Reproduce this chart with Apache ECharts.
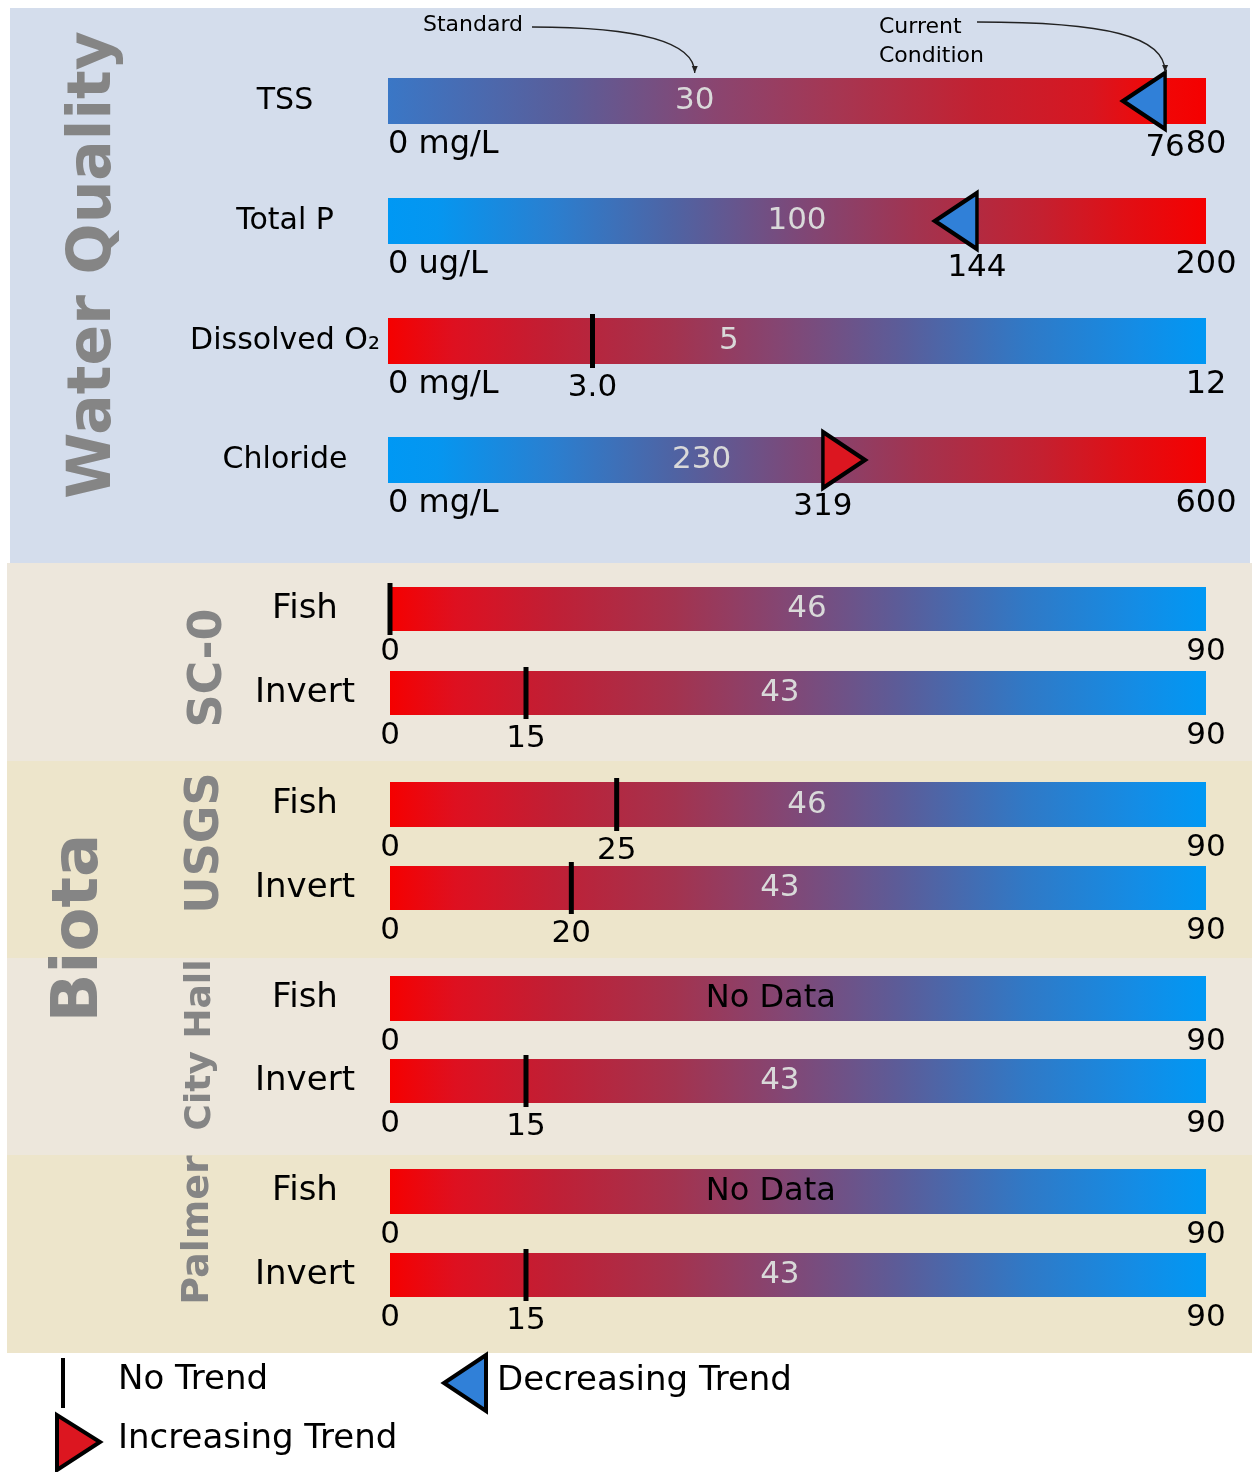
<!DOCTYPE html>
<html>
<head>
<meta charset="utf-8">
<script src="https://cdn.jsdelivr.net/npm/echarts@6/dist/echarts.min.js"></script>
<style>
  html, body { margin: 0; padding: 0; background: #ffffff; }
  #chart { width: 1252px; height: 1472px; }
</style>
</head>
<body>
<div id="chart"></div>
<script>
// ---------------- data ----------------
const indicators = ['TSS', 'Total P', 'Dissolved O₂', 'Chloride',
                    'Fish', 'Invert', 'Fish', 'Invert', 'Fish', 'Invert', 'Fish', 'Invert'];
const sites = ['SC-0', 'USGS', 'City Hall', 'Palmer'];
const units = ['mg/L', 'ug/L', 'mg/L', 'mg/L', '', '', '', '', '', '', '', ''];
const scaleMax = [80, 200, 12, 600, 90, 90, 90, 90, 90, 90, 90, 90];
const standards = [30, 100, 5, 230, 46, 43, 46, 43, null, 43, null, 43];
const current = [76, 144, 3.0, 319, 0, 15, 25, 20, null, 15, null, 15];
const trend = ['down', 'down', 'none', 'up', 'none', 'none', 'none', 'none', null, 'none', null, 'none'];
const decimals = [0, 0, 1, 0, 0, 0, 0, 0, 0, 0, 0, 0];
const legendItems = ['No Trend', 'Decreasing Trend', 'Increasing Trend'];

// ---------------- layout & style ----------------
const FONT = '"DejaVu Sans", Verdana, sans-serif';
const barTop = [78, 198, 318, 437, 587, 671, 782, 866, 976, 1059, 1169, 1253];
const barH   = [46, 46, 46, 46, 44, 44, 45, 44, 45, 44, 45, 44];
const barLeft = [388, 388, 388, 388, 390, 390, 390, 390, 390, 390, 390, 390];
const barRight = 46;
const noDataAt = 42;               // x position (axis units) of the "No Data" caption
const rampOf = ['tss', 'lowGood', 'highGood', 'lowGood',
                'highGood', 'highGood', 'highGood', 'highGood', 'highGood', 'highGood', 'highGood', 'highGood'];
const ramps = {
  tss:      [[0, '#3a77c6'], [0.22, '#5a5d99'], [0.4, '#8a4570'], [0.55, '#a63652'], [0.72, '#c32131'],
             [0.86, '#d71621'], [0.93, '#ef0909'], [1, '#f50000']],
  lowGood:  [[0, '#0098f4'], [0.06, '#0596f0'], [0.2, '#2a7fd0'], [0.35, '#4f63a3'], [0.5, '#7d4878'],
             [0.65, '#a3334f'], [0.8, '#c42030'], [0.9, '#e00f15'], [1, '#f50000']],
  highGood: [[0, '#f50000'], [0.08, '#de1020'], [0.2, '#c01f35'], [0.35, '#a3334f'], [0.48, '#844673'],
             [0.63, '#5a5d9a'], [0.78, '#3079c6'], [0.92, '#138de6'], [1, '#0098f4']]
};
const BLUE_TRI = '#3080d8';
const RED_TRI = '#dc1620';
const TITLE_GRAY = '#858585';

function gradient(name) {
  return new echarts.graphic.LinearGradient(0, 0, 1, 0,
    ramps[name].map(s => ({ offset: s[0], color: s[1] })));
}

function markerStyle(kind, h) {
  if (kind === 'down') {
    return { symbol: 'path://M42,0L42,56L0,28Z', symbolSize: [42, 56], symbolOffset: [-21, 0],
             itemStyle: { color: BLUE_TRI, borderColor: '#000', borderWidth: 4, borderJoin: 'miter', opacity: 1 } };
  }
  if (kind === 'up') {
    return { symbol: 'path://M0,0L0,56L42,28Z', symbolSize: [42, 56], symbolOffset: [21, 0],
             itemStyle: { color: RED_TRI, borderColor: '#000', borderWidth: 4, borderJoin: 'miter', opacity: 1 } };
  }
  return { symbol: 'rect', symbolSize: [5, h + 8], symbolOffset: [0, 0],
           itemStyle: { color: '#000', opacity: 1 } };
}

const grids = [], xAxes = [], yAxes = [], series = [];
indicators.forEach((name, i) => {
  const wq = i < 4;
  grids.push({ left: barLeft[i], right: barRight, top: barTop[i], height: barH[i] });
  xAxes.push({
    type: 'value', gridIndex: i, min: 0, max: scaleMax[i], interval: scaleMax[i],
    axisLine: { show: false }, axisTick: { show: false }, splitLine: { show: false },
    axisLabel: {
      show: true, showMinLabel: true, showMaxLabel: true,
      fontFamily: FONT, fontSize: wq ? 32 : 31, color: '#000', margin: 5,
      alignMinLabel: wq ? 'left' : 'center',
      formatter: v => (v === 0 ? (units[i] ? '0 ' + units[i] : '0') : String(v))
    }
  });
  yAxes.push({
    type: 'category', gridIndex: i, data: [name],
    axisLine: { show: false }, axisTick: { show: false }, splitLine: { show: false },
    axisLabel: { fontFamily: FONT, fontSize: wq ? 30 : 34, color: '#000',
                 align: 'center', margin: wq ? 103 : 85 }
  });

  // colour ramp bar spanning the full scale
  series.push({
    type: 'bar', xAxisIndex: i, yAxisIndex: i, silent: true, z: 2,
    barWidth: '100%', data: [scaleMax[i]],
    itemStyle: { color: gradient(rampOf[i]) }
  });

  // captions: standard value inside the bar, current value under the marker
  const captions = [];
  if (standards[i] != null) {
    captions.push({ value: [standards[i], name],
      label: { formatter: String(standards[i]), color: '#d9d9d9', fontSize: 31 } });
  } else {
    captions.push({ value: [noDataAt, name],
      label: { formatter: 'No Data', color: '#000', fontSize: 32 } });
  }
  if (current[i] != null && current[i] !== 0) {
    captions.push({ value: [current[i], name],
      label: { formatter: current[i].toFixed(decimals[i]), color: '#000', fontSize: 31,
               offset: [0, barH[i] / 2 + 24] } });
  }
  series.push({
    type: 'scatter', xAxisIndex: i, yAxisIndex: i, silent: true, z: 3, clip: false,
    symbolSize: 0, itemStyle: { color: 'rgba(0,0,0,0)', opacity: 1 },
    label: { show: true, position: 'inside', fontFamily: FONT },
    data: captions
  });

  // current-condition marker
  if (current[i] != null) {
    series.push(Object.assign({
      type: 'scatter', xAxisIndex: i, yAxisIndex: i, silent: true, z: 5, clip: false,
      data: [[current[i], name]]
    }, markerStyle(trend[i], barH[i])));
  }
});

// ---------------- background panels, titles, legend ----------------
function panel(x, y, w, h, fill) {
  return { type: 'rect', z: -10, silent: true, shape: { x, y, width: w, height: h }, style: { fill } };
}
function vtitle(text, x, y, size) {
  return { type: 'text', x, y, rotation: Math.PI / 2, z: 1, silent: true,
           style: { text, fontFamily: FONT, fontWeight: 'bold', fontSize: size, fill: TITLE_GRAY,
                    align: 'center', verticalAlign: 'middle' } };
}
function plain(text, x, y, size, align) {
  return { type: 'text', x, y, z: 10, silent: true,
           style: { text, fontFamily: FONT, fontSize: size, fill: '#000',
                    align: align || 'left', verticalAlign: 'middle' } };
}

const graphics = [
  panel(10, 8, 1240, 555, '#d4ddec'),
  panel(7, 563, 1245, 198, '#ede7dc'),
  panel(7, 761, 1245, 197, '#ede5cb'),
  panel(7, 958, 1245, 197, '#ede7dc'),
  panel(7, 1155, 1245, 198, '#ede5cb'),
  vtitle('Water Quality', 94, 265, 60),
  vtitle('Biota', 80, 928, 64),
  vtitle(sites[0], 209, 668, 46),
  vtitle(sites[1], 206, 843, 46),
  vtitle(sites[2], 201, 1045, 36),
  vtitle(sites[3], 198, 1230, 38),
  plain('Standard', 423, 25, 22),
  plain('Current', 879, 27, 22),
  plain('Condition', 879, 56, 22),
  // legend
  { type: 'rect', z: 10, silent: true, shape: { x: 61, y: 1358, width: 4, height: 50 }, style: { fill: '#000' } },
  plain(legendItems[0], 118, 1380, 34),
  { type: 'polygon', z: 10, silent: true, shape: { points: [[486, 1355], [486, 1411], [444, 1383]] },
    style: { fill: BLUE_TRI, stroke: '#000', lineWidth: 4, lineJoin: 'miter' } },
  plain(legendItems[1], 497, 1381, 34),
  { type: 'polygon', z: 10, silent: true, shape: { points: [[57, 1415], [57, 1470], [100, 1442]] },
    style: { fill: RED_TRI, stroke: '#000', lineWidth: 4, lineJoin: 'miter' } },
  plain(legendItems[2], 118, 1439, 34)
];

const chart = echarts.init(document.getElementById('chart'), null, { renderer: 'canvas' });
chart.setOption({
  backgroundColor: '#ffffff',
  animation: false,
  textStyle: { fontFamily: FONT },
  grid: grids, xAxis: xAxes, yAxis: yAxes, series: series,
  graphic: graphics
});

// curved call-outs from the captions to the TSS standard and current marker
const stdPt = chart.convertToPixel({ gridIndex: 0 }, [standards[0], indicators[0]]);
const curPt = chart.convertToPixel({ gridIndex: 0 }, [current[0], indicators[0]]);
function callout(x0, y0, x1, y1) {
  return [
    { type: 'bezierCurve', z: 10, silent: true,
      shape: { x1: x0, y1: y0, cpx1: x1 - 60, cpy1: y0, cpx2: x1, cpy2: y0 + 14, x2: x1, y2: y1 },
      style: { stroke: '#222', lineWidth: 1.3, fill: null } },
    { type: 'polygon', z: 10, silent: true,
      shape: { points: [[x1 - 3, y1 - 7], [x1 + 3, y1 - 7], [x1, y1]] },
      style: { fill: '#222' } }
  ];
}
chart.setOption({
  graphic: graphics.concat(
    callout(532, 27, stdPt[0], barTop[0] - 5),
    callout(977, 22, curPt[0], barTop[0] - 6)
  )
});
</script>
</body>
</html>
